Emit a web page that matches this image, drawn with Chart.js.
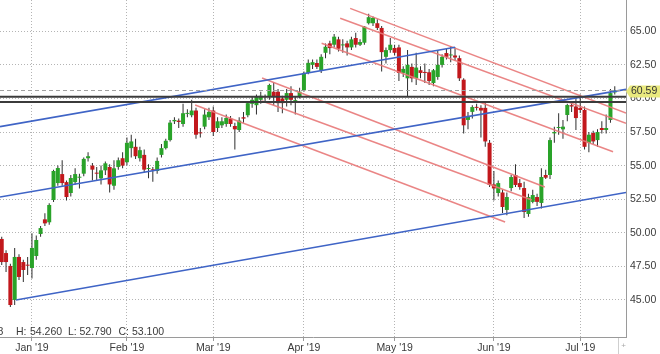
<!DOCTYPE html>
<html>
<head>
<meta charset="utf-8">
<script src="https://cdn.jsdelivr.net/npm/chart.js@4.4.1/dist/chart.umd.min.js"></script>
<style>
  html, body { margin: 0; padding: 0; background: #fff; }
  #wrap { width: 660px; height: 354px; }
</style>
</head>
<body>
<div id="wrap"><canvas id="chart" width="660" height="354"></canvas></div>
<script>
// daily candles, late Dec 2018 .. mid Jul 2019 (trading day index = x)
const opens = [49.54, 48.49, 47.53, 45.00, 48.20, 47.82, 47.60, 47.38, 48.27, 49.91,
  51.00, 50.78, 52.44, 53.70, 54.37, 53.77, 52.96, 53.77, 54.10, 54.40,
  55.55, 55.00, 54.45, 54.05, 54.65, 54.90, 53.50, 54.90, 55.55, 55.25,
  56.30, 56.40, 55.55, 55.80, 54.75, 54.70, 54.60, 55.80, 56.30, 56.90,
  58.30, 58.35, 58.10, 58.85, 58.75, 59.10, 57.45, 57.90, 58.60, 59.10,
  57.80, 58.00, 58.10, 58.50, 57.95, 57.65, 58.60, 58.75, 59.60, 59.50,
  59.90, 60.15, 60.10, 60.50, 60.50, 60.00, 59.90, 60.40, 59.80, 60.15,
  60.60, 61.90, 62.50, 62.64, 62.10, 63.40, 64.10, 64.00, 64.40, 63.95,
  64.10, 63.80, 64.50, 64.00, 64.15, 65.60, 65.60, 65.60, 65.25, 63.10,
  63.60, 63.76, 63.80, 61.90, 61.50, 62.35, 61.50, 62.10, 61.95, 61.95,
  61.15, 61.60, 62.50, 63.38, 63.20, 63.20, 63.00, 61.40, 58.40, 59.00,
  59.36, 59.30, 59.30, 56.70, 53.60, 52.96, 53.00, 51.70, 53.33, 54.30,
  53.70, 53.33, 51.40, 52.30, 52.66, 52.22, 54.30, 54.30, 57.40, 57.80,
  57.70, 58.77, 59.50, 59.40, 59.30, 59.14, 56.68, 57.43, 56.90, 57.80,
  57.65, 58.40, 60.45]
const highs = [49.70, 48.70, 47.70, 48.87, 48.40, 48.00, 48.20, 49.96, 49.80, 50.50,
  51.45, 52.20, 54.70, 55.00, 55.40, 53.90, 54.30, 54.80, 54.40, 55.60,
  56.00, 55.20, 54.90, 55.00, 55.30, 55.10, 55.40, 55.60, 56.00, 57.10,
  57.30, 57.00, 56.40, 56.20, 55.10, 54.90, 55.60, 56.60, 57.00, 58.40,
  58.60, 58.50, 59.60, 59.20, 59.90, 59.30, 57.80, 59.20, 59.30, 59.40,
  58.60, 58.60, 58.80, 58.70, 58.20, 58.60, 59.00, 59.80, 60.10, 60.30,
  60.50, 60.30, 61.10, 61.20, 60.70, 60.20, 60.70, 60.90, 60.10, 60.80,
  62.00, 62.90, 62.90, 62.90, 63.30, 64.10, 64.30, 64.80, 64.60, 64.40,
  64.30, 64.60, 64.90, 64.40, 65.40, 66.30, 66.10, 65.90, 65.40, 63.80,
  64.50, 64.00, 64.00, 62.40, 63.60, 62.60, 63.40, 62.40, 62.60, 62.20,
  62.20, 63.60, 63.30, 63.70, 63.90, 63.80, 63.20, 61.50, 59.00, 59.50,
  59.60, 59.50, 59.70, 56.90, 54.60, 53.90, 53.20, 53.00, 54.30, 55.10,
  54.00, 53.80, 52.90, 53.20, 52.90, 54.80, 54.70, 57.10, 57.90, 58.90,
  58.40, 59.60, 59.70, 60.00, 60.30, 59.40, 57.50, 57.60, 57.70, 58.30,
  58.80, 60.70, 60.90]
const lows = [47.60, 47.08, 44.48, 44.62, 46.49, 46.34, 46.86, 46.60, 48.00, 49.70,
  50.50, 50.60, 52.30, 53.50, 53.50, 52.40, 52.70, 53.60, 53.30, 54.20,
  55.30, 53.90, 53.90, 53.60, 54.30, 53.00, 53.20, 54.70, 54.80, 55.00,
  55.60, 55.50, 55.30, 54.50, 54.05, 53.80, 54.40, 55.60, 56.20, 56.80,
  58.10, 57.80, 57.90, 58.60, 58.60, 57.00, 57.10, 57.70, 58.40, 57.20,
  57.50, 57.80, 57.90, 57.90, 56.20, 57.50, 58.20, 58.60, 59.30, 58.80,
  59.60, 59.80, 59.90, 59.50, 59.00, 58.90, 59.40, 59.50, 58.80, 60.00,
  60.50, 61.80, 62.20, 62.20, 61.90, 63.00, 63.30, 63.80, 63.50, 63.40,
  63.20, 63.60, 63.80, 63.90, 64.00, 65.50, 65.40, 65.10, 62.00, 62.60,
  63.40, 63.20, 61.30, 61.60, 60.10, 61.20, 61.00, 61.50, 61.15, 61.00,
  60.90, 61.40, 62.30, 62.90, 62.70, 62.80, 61.30, 57.40, 57.70, 58.50,
  59.10, 57.10, 56.40, 53.40, 52.40, 52.70, 51.47, 51.30, 53.10, 53.40,
  53.20, 51.10, 51.20, 52.20, 52.00, 51.80, 54.00, 54.00, 56.70, 57.30,
  57.00, 58.30, 59.00, 57.65, 58.92, 56.20, 56.00, 56.60, 56.40, 57.40,
  57.40, 58.20, 60.30]
const closes = [47.82, 47.82, 44.62, 48.20, 46.71, 47.23, 47.55, 48.87, 49.46, 50.35,
  50.70, 52.07, 54.60, 54.82, 53.70, 52.66, 54.08, 54.37, 54.15, 55.50,
  55.70, 54.70, 54.40, 54.65, 55.17, 53.60, 54.80, 55.40, 55.00, 56.70,
  56.80, 55.70, 56.15, 54.70, 54.80, 54.65, 55.35, 56.30, 56.85, 58.20,
  58.40, 58.25, 58.90, 58.85, 59.10, 57.30, 57.40, 58.80, 59.00, 57.50,
  58.30, 58.30, 58.55, 58.10, 57.70, 58.35, 58.50, 59.65, 59.90, 60.15,
  60.20, 60.10, 61.00, 60.15, 59.65, 59.65, 60.40, 59.90, 59.80, 60.50,
  61.90, 62.65, 62.70, 62.35, 63.10, 63.85, 63.75, 64.60, 63.70, 64.00,
  63.80, 64.40, 64.00, 64.20, 65.35, 66.05, 66.00, 65.25, 63.45, 63.60,
  64.00, 63.40, 61.90, 62.20, 62.50, 61.50, 62.30, 61.90, 61.90, 61.30,
  62.10, 62.50, 63.10, 63.10, 63.20, 63.05, 61.50, 58.00, 58.70, 59.36,
  59.30, 59.10, 56.80, 53.56, 53.30, 53.70, 51.92, 52.66, 54.15, 53.56,
  53.40, 51.55, 52.66, 52.81, 52.30, 54.15, 54.10, 56.90, 57.50, 57.85,
  57.90, 59.51, 59.40, 58.54, 59.14, 56.40, 57.30, 56.80, 57.50, 57.65,
  57.80, 60.40, 60.59]

const monthTicks = [7, 29, 49, 70, 91, 114, 134]
const monthLabels = ["Jan '19", "Feb '19", "Mar '19", "Apr '19", "May '19", "Jun '19", "Jul '19"]
const priceTicks = [45, 47.5, 50, 52.5, 55, 57.5, 60, 62.5, 65]

// trend channels, [startIndex, startPrice, endIndex, endPrice]
const blueLines = [
  [-0.4, 57.90, 105.0, 63.81],
  [-0.4, 52.66, 144.6, 60.68],
  [3.3, 45.00, 144.6, 53.00]
]
const redLines = [
  [80.7, 66.71, 144.6, 58.92],
  [78.4, 65.97, 144.6, 58.15],
  [74.1, 64.11, 141.6, 56.03],
  [60.3, 61.52, 125.8, 53.41],
  [60.3, 59.81, 122.8, 52.44],
  [44.8, 59.51, 116.6, 50.80]
]
const levels = [60.13, 59.74]
const ohlcParts = [['8', -2.5], ['H:', 16], ['54.260', 30], ['L:', 68], ['52.790', 79.5], ['C:', 118.5], ['53.100', 132]]

const X_MIN = -0.4, X_MAX = 144.6
const FONT = '"Liberation Sans", Arial, sans-serif'

Chart.defaults.font.family = FONT
Chart.defaults.font.size = 10.5
Chart.defaults.color = '#3a3a3a'

const lastClose = closes[closes.length - 1]

function segment(l, color, width, dash) {
  return {
    type: 'line',
    data: [{x: l[0], y: l[1]}, {x: l[2], y: l[3]}],
    borderColor: color,
    borderWidth: width,
    borderDash: dash || [],
    pointRadius: 0,
    fill: false,
    order: 0
  }
}

let datasets = []

levels.forEach(v => datasets.push(segment([X_MIN, v, X_MAX, v], '#3b3b3b', 2)))
datasets.push(segment([X_MIN, lastClose, X_MAX, lastClose], '#a0a0a0', 1, [4, 3]))
blueLines.forEach(l => datasets.push(segment(l, '#3f64c6', 1.6)))
redLines.forEach(l => datasets.push(segment(l, 'rgba(232,120,120,0.9)', 1.5)))

datasets.push({
  type: 'bar',
  data: closes.map((c, i) => ({x: i, y: [opens[i], c]})),
  backgroundColor: closes.map((c, i) => c >= opens[i] ? '#29a329' : '#c2181c'),
  barThickness: 4,
  minBarLength: 1,
  grouped: false,
  inflateAmount: 0,
  order: 1
})
datasets.push({
  type: 'bar',
  data: highs.map((h, i) => ({x: i, y: [lows[i], h]})),
  backgroundColor: '#2e2e2e',
  barThickness: 1,
  minBarLength: 1,
  grouped: false,
  inflateAmount: 0,
  order: 2
})

// price tag, OHLC readout and little footer marks
const extras = {
  id: 'extras',
  afterDraw(chart) {
    const ctx = chart.ctx
    const yS = chart.scales.y
    const area = chart.chartArea
    const y = Math.round(yS.getPixelForValue(lastClose)) + 0.5

    ctx.save()
    ctx.fillStyle = '#e9e97e'
    ctx.beginPath()
    ctx.moveTo(area.right, y)
    ctx.lineTo(area.right + 4, y - 6)
    ctx.lineTo(660, y - 6)
    ctx.lineTo(660, y + 6)
    ctx.lineTo(area.right + 4, y + 6)
    ctx.closePath()
    ctx.fill()
    ctx.fillStyle = '#333'
    ctx.font = '10.5px ' + FONT
    ctx.textBaseline = 'middle'
    ctx.fillText(lastClose.toFixed(2), area.right + 5, y)

    ctx.fillStyle = '#3a3a3a'
    ohlcParts.forEach(p => ctx.fillText(p[0], p[1], area.bottom - 4.5))

    ctx.strokeStyle = '#cfcfcf'
    ctx.lineWidth = 1
    ctx.beginPath()
    ctx.moveTo(618.5, area.bottom + 1)
    ctx.lineTo(618.5, 354)
    ctx.stroke()
    ctx.fillStyle = '#a8a8a8'
    ctx.font = '8px ' + FONT
    ctx.textAlign = 'center'
    ctx.fillText('+', 623.5, 346)
    ctx.restore()
  }
}

const chart = new Chart(document.getElementById('chart'), {
  type: 'bar',
  data: { datasets: datasets },
  options: {
    responsive: false,
    animation: false,
    devicePixelRatio: 1,
    layout: { padding: 0 },
    plugins: { legend: { display: false }, tooltip: { enabled: false } },
    scales: {
      x: {
        type: 'linear',
        min: X_MIN,
        max: X_MAX,
        offset: false,
        grid: { color: '#b4b4b4', offset: false, tickLength: 4, tickColor: '#9a9a9a' },
        border: { color: '#9a9a9a', dash: [1, 2] },
        ticks: {
          padding: 1,
          autoSkip: false,
          maxRotation: 0,
          callback: v => monthLabels[monthTicks.indexOf(v)] || ''
        },
        afterBuildTicks: s => { s.ticks = monthTicks.map(v => ({value: v})) },
        afterFit: s => { s.height = 17; s.paddingLeft = 0; s.paddingRight = 0 }
      },
      y: {
        position: 'right',
        min: 42.24,
        max: 67.33,
        grid: { color: '#b4b4b4', drawTicks: false },
        border: { color: '#9a9a9a', dash: [1, 2] },
        ticks: { padding: 4, callback: v => v.toFixed(2) },
        afterBuildTicks: s => { s.ticks = priceTicks.map(v => ({value: v})) },
        afterFit: s => { s.width = 34; s.paddingTop = 0; s.paddingBottom = 0 }
      }
    }
  },
  plugins: [extras]
})
</script>
</body>
</html>
